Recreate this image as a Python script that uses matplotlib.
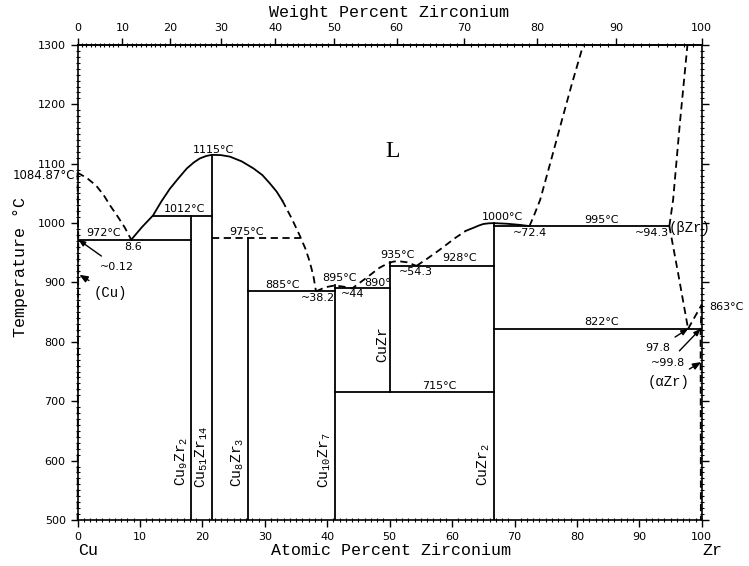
import numpy as np
import matplotlib.pyplot as plt
from matplotlib.ticker import MultipleLocator, FixedLocator

plt.rcParams['mathtext.fontset'] = 'custom'
plt.rcParams['mathtext.tt'] = 'Liberation Mono'
plt.rcParams['mathtext.rm'] = 'Liberation Mono'

M_CU = 63.546
M_ZR = 91.224

# liquidus / solvus curves (at.% Zr, deg C)
liq_cu_x = [0, 1.5, 3, 4.2, 5.2, 6.5, 7.6, 8.6]
liq_cu_t = [1084.87, 1076, 1063, 1047, 1030, 1010, 992, 972]
dome_x = [8.6, 10.3, 12.1, 13.4, 14.8, 16.2, 17.5, 18.6, 19.6, 20.6, 21.5,
          23, 24.4, 26.3, 28.2, 29.6, 30.8, 31.9, 32.8]
dome_t = [972, 993, 1013, 1036, 1058, 1076, 1092, 1102, 1109, 1113, 1115,
          1114.5, 1112, 1104, 1092, 1081, 1067, 1053, 1038]
dome_d_x = [32.8, 34.3, 35.6, 36.5, 37.2, 37.8, 38.2]
dome_d_t = [1038, 1008, 979, 957, 935, 910, 885]
mid_x = [38.2, 39.7, 41.2, 42.6, 44, 45, 46.3, 47.4, 48.4, 49.5, 50.5, 51.3, 52.8, 54.3]
mid_t = [885, 892, 895, 893, 890, 898, 908, 917, 925, 931, 935, 936, 934, 928]
rise_x = [54.3, 56, 58, 60.5, 62.2]
rise_t = [928, 940, 955, 975, 987]
top_x = [62.2, 63.4, 64.3, 65, 65.9, 66.7, 68.7, 70.9, 72.4]
top_t = [987, 992, 996, 998.5, 999.7, 1000, 999, 997, 995]
liq_zr_x = [72.4, 73.2, 74.1, 75.8, 77.5, 79.2, 81]
liq_zr_t = [995, 1015, 1039, 1104, 1170, 1235, 1300]
bzr_x = [94.8, 95.4, 96.5, 97.7]
bzr_t = [995, 1039, 1170, 1300]
bzr_solvus_x = [94.8, 96.3, 97.8]
bzr_solvus_t = [995, 910, 822]
transus_x = [97.8, 100]
transus_t = [822, 863]
azr_x = [100, 99.8, 99.85]
azr_t = [863, 822, 500]
cu_solvus_x = [0, 0.12, 0.05, 0.02]
cu_solvus_t = [1084.87, 972, 700, 500]

# invariant lines: (T, x_from, x_to)
inv_solid = [(972, 0.12, 18.18), (1012, 12.1, 21.54), (885, 27.27, 41.18),
             (890, 41.18, 50), (928, 50, 66.67), (995, 66.67, 94.8),
             (822, 66.67, 99.8), (715, 41.18, 66.67)]
inv_dashed = [(975, 21.54, 35.6)]

# compounds: (x, T_bottom, T_top)
compounds = [(18.18, 500, 1012), (21.54, 500, 1115), (27.27, 500, 975),
             (41.18, 500, 895), (50, 715, 935), (66.67, 500, 1000)]

# labels: text, x, T
labels = [('1012°C', 17.2, 1024), ('1115°C', 21.7, 1123), ('972°C', 4.1, 983),
          ('8.6', 8.9, 960), ('975°C', 27.1, 985), ('885°C', 32.9, 896),
          ('~38.2', 38.5, 874), ('895°C', 42.0, 908), ('~44', 44.1, 881),
          ('890°', 48.1, 899), ('935°C', 51.2, 946), ('~54.3', 54.2, 918),
          ('928°C', 61.2, 941), ('1000°C', 68.0, 1010), ('~72.4', 72.5, 983),
          ('995°C', 84.0, 1005), ('~94.3', 92.0, 983), ('822°C', 84.0, 834),
          ('715°C', 58.0, 726), ('863°C', 104.0, 859)]
phase_labels = [('$\\mathtt{Cu_9Zr_2}$', 16.7, 598), ('$\\mathtt{Cu_{51}Zr_{14}}$', 19.9, 606),
                ('$\\mathtt{Cu_8Zr_3}$', 25.6, 598), ('$\\mathtt{Cu_{10}Zr_7}$', 39.6, 601),
                ('$\\mathtt{CuZr}$', 48.9, 795), ('$\\mathtt{CuZr_2}$', 65.0, 593)]
# arrows: text, text x, text T, tip x, tip T
arrows = [('~0.12', 6.3, 926, 0.15, 972), ('(Cu)', 5.2, 882, 0.3, 913),
          ('97.8', 93.0, 790, 97.8, 822), ('~99.8', 94.6, 765, 99.8, 822),
          ('(αZr)', 94.6, 733, 99.9, 766)]

wt_major = list(range(0, 101, 10))
wt_minor = list(range(0, 101, 1))


def at2wt(a):
    a = np.asarray(a, float)
    with np.errstate(all='ignore'):
        return a * M_ZR / (a * M_ZR + (100 - a) * M_CU) * 100


def wt2at(w):
    w = np.asarray(w, float)
    with np.errstate(all='ignore'):
        return (w / M_ZR) / (w / M_ZR + (100 - w) / M_CU) * 100


fig = plt.figure(figsize=(7.49, 5.66), dpi=100)
ax = fig.add_axes([0.1035, 0.0813, 0.8335, 0.8392])
ax.set_xlim(0, 100)
ax.set_ylim(500, 1300)

lw = 1.3
dash = (0, (4, 2.5))
for xs, ts in [(dome_x, dome_t), (top_x, top_t)]:
    ax.plot(xs, ts, color='k', lw=lw, solid_joinstyle='round')
for xs, ts in [(liq_cu_x, liq_cu_t), (dome_d_x, dome_d_t), (mid_x, mid_t),
               (rise_x, rise_t), (liq_zr_x, liq_zr_t), (bzr_x, bzr_t),
               (bzr_solvus_x, bzr_solvus_t), (transus_x, transus_t),
               (azr_x, azr_t), (cu_solvus_x, cu_solvus_t)]:
    ax.plot(xs, ts, color='k', lw=lw, ls=dash, clip_on=False)

for t, x0, x1 in inv_solid:
    ax.plot([x0, x1], [t, t], color='k', lw=lw)
for t, x0, x1 in inv_dashed:
    ax.plot([x0, x1], [t, t], color='k', lw=lw, ls=dash)
for x, t0, t1 in compounds:
    ax.plot([x, x], [t0, t1], color='k', lw=lw)

for s, x, t in labels:
    ax.text(x, t, s, ha='center', va='center', fontsize=8, clip_on=False)
ax.text(-0.4, 1081, '1084.87°C', ha='right', va='center', fontsize=8.5)
ax.text(94.7, 992, '(βZr)', ha='left', va='center', fontsize=10,
        family='Liberation Mono')
ax.text(50.5, 1120, 'L', ha='center', va='center', fontsize=17,
        family='Liberation Serif')

for s, x, t in phase_labels:
    ax.text(x, t, s, rotation=90, ha='center', va='center', fontsize=10.5)

for s, x, t, xa, ta in arrows:
    fam = 'Liberation Mono' if s.startswith('(') else 'DejaVu Sans'
    fs = 10 if s.startswith('(') else 8
    ax.annotate(s, xy=(xa, ta), xytext=(x, t), ha='center', va='center',
                fontsize=fs, family=fam, annotation_clip=False,
                arrowprops=dict(arrowstyle='-|>,head_length=0.5,head_width=0.2',
                                color='k', lw=1, shrinkA=4, shrinkB=0))

# axes and ticks
for sp in ax.spines.values():
    sp.set_linewidth(1.2)
ax.xaxis.set_major_locator(MultipleLocator(10))
ax.xaxis.set_minor_locator(MultipleLocator(1))
ax.yaxis.set_major_locator(MultipleLocator(100))
ax.yaxis.set_minor_locator(MultipleLocator(10))
ax.tick_params(which='major', direction='out', length=5, width=1, labelsize=8,
               right=True, labelright=False)
ax.tick_params(which='minor', direction='inout', length=3, width=0.8, right=True)

ax2 = ax.secondary_xaxis('top', functions=(at2wt, wt2at))
ax2.xaxis.set_major_locator(FixedLocator(wt_major))
ax2.xaxis.set_minor_locator(FixedLocator(wt_minor))
ax2.tick_params(which='major', direction='out', length=5, width=1, labelsize=8)
ax2.tick_params(which='minor', direction='inout', length=3, width=0.8)
ax2.spines['top'].set_linewidth(1.2)

mono = 'Liberation Mono'
fig.text(0.52, 0.978, 'Weight Percent Zirconium', ha='center', va='center',
         fontsize=12, family=mono)
fig.text(0.522, 0.028, 'Atomic Percent Zirconium', ha='center', va='center',
         fontsize=12, family=mono)
fig.text(0.118, 0.028, 'Cu', ha='center', va='center', fontsize=12, family=mono)
fig.text(0.951, 0.028, 'Zr', ha='center', va='center', fontsize=12, family=mono)
fig.text(0.027, 0.528, 'Temperature °C', ha='center', va='center', rotation=90,
         fontsize=12, family=mono)

fig.savefig('out.png', dpi=100)
